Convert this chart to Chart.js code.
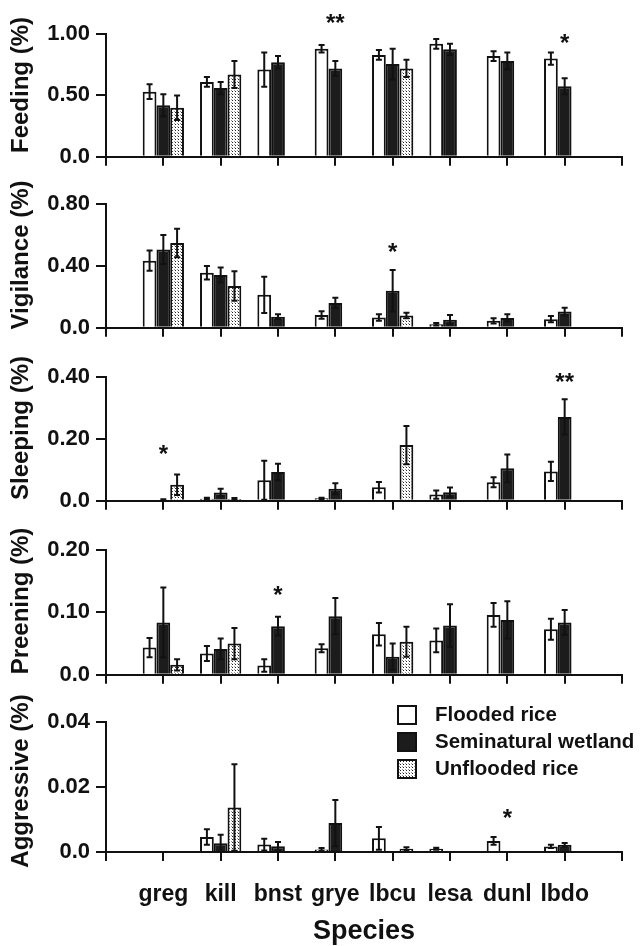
<!DOCTYPE html>
<html>
<head>
<meta charset="utf-8">
<script src="https://cdn.jsdelivr.net/npm/chart.js@4.4.1/dist/chart.umd.min.js"></script>
<style>
  body { margin:0; background:#fff; width:644px; height:946px; position:relative; overflow:hidden; }
  .panel { position:absolute; left:0; width:644px; }
</style>
</head>
<body>
<script>
const species = ['greg','kill','bnst','grye','lbcu','lesa','dunl','lbdo'];
const seriesNames = ['Flooded rice','Seminatural wetland','Unflooded rice'];

// Feeding
const feedingFlooded      = [0.53, 0.61, 0.71, 0.88, 0.83, 0.92, 0.82, 0.80];
const feedingFloodedErr   = [0.06, 0.04, 0.14, 0.03, 0.04, 0.04, 0.04, 0.05];
const feedingSemi         = [0.42, 0.56, 0.77, 0.72, 0.755, 0.875, 0.78, 0.575];
const feedingSemiErr      = [0.09, 0.05, 0.05, 0.06, 0.125, 0.045, 0.07, 0.065];
const feedingUnflooded    = [0.40, 0.67, null, null, 0.72, null, null, null];
const feedingUnfloodedErr = [0.10, 0.11, null, null, 0.07, null, null, null];
const feedingTicks = ['0.0', '0.50', '1.00'];
const feedingStars = [['grye', '**', 1.14], ['lbdo', '*', 0.977]];

// Vigilance
const vigilanceFlooded      = [0.434, 0.356, 0.213, 0.083, 0.066, 0.023, 0.045, 0.056];
const vigilanceFloodedErr   = [0.066, 0.044, 0.117, 0.024, 0.021, 0.008, 0.017, 0.020];
const vigilanceSemi         = [0.506, 0.341, 0.072, 0.160, 0.240, 0.052, 0.064, 0.105];
const vigilanceSemiErr      = [0.094, 0.049, 0.015, 0.034, 0.134, 0.031, 0.023, 0.025];
const vigilanceUnflooded    = [0.548, 0.270, null, null, 0.079, null, null, null];
const vigilanceUnfloodedErr = [0.092, 0.096, null, null, 0.018, null, null, null];
const vigilanceTicks = ['0.0', '0.40', '0.80'];
const vigilanceStars = [['lbcu', '*', 0.527]];

// Sleeping
const sleepingFlooded      = [0, 0.007, 0.066, 0.008, 0.044, 0.020, 0.060, 0.095];
const sleepingFloodedErr   = [0, 0.003, 0.063, 0.002, 0.017, 0.013, 0.016, 0.031];
const sleepingSemi         = [0.003, 0.027, 0.093, 0.039, 0, 0.028, 0.105, 0.271];
const sleepingSemiErr      = [0.002, 0.012, 0.027, 0.018, 0, 0.015, 0.045, 0.057];
const sleepingUnflooded    = [0.052, 0.006, null, null, 0.180, null, null, null];
const sleepingUnfloodedErr = [0.033, 0.003, null, null, 0.062, null, null, null];
const sleepingTicks = ['0.0', '0.20', '0.40'];
const sleepingStars = [['greg', '*', 0.171], ['lbdo', '**', 0.403]];

// Preening
const preeningFlooded      = [0.0436, 0.034, 0.015, 0.0425, 0.065, 0.055, 0.096, 0.073];
const preeningFloodedErr   = [0.0154, 0.012, 0.010, 0.0065, 0.018, 0.019, 0.019, 0.017];
const preeningSemi         = [0.084, 0.0415, 0.078, 0.094, 0.029, 0.079, 0.088, 0.084];
const preeningSemiErr      = [0.056, 0.0165, 0.015, 0.029, 0.021, 0.034, 0.030, 0.020];
const preeningUnflooded    = [0.016, 0.050, null, null, 0.053, null, null, null];
const preeningUnfloodedErr = [0.009, 0.025, null, null, 0.024, null, null, null];
const preeningTicks = ['0.0', '0.10', '0.20'];
const preeningStars = [['bnst', '*', 0.138]];

// Aggressive
const aggressiveFlooded      = [0, 0.0046, 0.0023, 0.0008, 0.0042, 0.0010, 0.0034, 0.0017];
const aggressiveFloodedErr   = [0, 0.0024, 0.0018, 0.0004, 0.0035, 0.0003, 0.0012, 0.0005];
const aggressiveSemi         = [0, 0.0027, 0.0018, 0.0089, 0, 0, 0, 0.0022];
const aggressiveSemiErr      = [0, 0.0026, 0.0013, 0.0071, 0, 0, 0, 0.0006];
const aggressiveUnflooded    = [0, 0.0137, null, null, 0.0010, null, null, null];
const aggressiveUnfloodedErr = [0, 0.0133, null, null, 0.0005, null, null, null];
const aggressiveTicks = ['0.0', '0.02', '0.04'];
const aggressiveStars = [['dunl', '*', 0.0123]];

const panels = [
  { title: 'Feeding (%)', max: 1.0, ticks: feedingTicks, stars: feedingStars,
    means: [feedingFlooded, feedingSemi, feedingUnflooded], errs: [feedingFloodedErr, feedingSemiErr, feedingUnfloodedErr] },
  { title: 'Vigilance (%)', max: 0.8, ticks: vigilanceTicks, stars: vigilanceStars,
    means: [vigilanceFlooded, vigilanceSemi, vigilanceUnflooded], errs: [vigilanceFloodedErr, vigilanceSemiErr, vigilanceUnfloodedErr] },
  { title: 'Sleeping (%)', max: 0.4, ticks: sleepingTicks, stars: sleepingStars,
    means: [sleepingFlooded, sleepingSemi, sleepingUnflooded], errs: [sleepingFloodedErr, sleepingSemiErr, sleepingUnfloodedErr] },
  { title: 'Preening (%)', max: 0.2, ticks: preeningTicks, stars: preeningStars,
    means: [preeningFlooded, preeningSemi, preeningUnflooded], errs: [preeningFloodedErr, preeningSemiErr, preeningUnfloodedErr] },
  { title: 'Aggressive (%)', max: 0.04, ticks: aggressiveTicks, stars: aggressiveStars,
    means: [aggressiveFlooded, aggressiveSemi, aggressiveUnflooded], errs: [aggressiveFloodedErr, aggressiveSemiErr, aggressiveUnfloodedErr] }
];

// page layout: y pixel of top tick and of zero line for each panel
const topPx  = [34, 204, 377, 550, 722];
const zeroPx = [162, 333, 506, 680, 852];
const INK = '#111';
const FONT = "'Liberation Sans', Arial, Helvetica, sans-serif";

function dotPattern() {
  const c = document.createElement('canvas');
  c.width = 3; c.height = 3;
  const g = c.getContext('2d');
  g.fillStyle = '#fff'; g.fillRect(0, 0, 3, 3);
  g.fillStyle = '#222'; g.fillRect(1, 1, 1, 1);
  g.fillStyle = '#999'; g.fillRect(0, 0, 1, 1);
  return g.createPattern(c, 'repeat');
}
const fills = ['#ffffff', '#1c1c1c', dotPattern()];

const pad = arr => [null, ...arr, null];

const errorBars = {
  id: 'errorBars',
  afterDatasetsDraw(chart) {
    const ctx = chart.ctx, y = chart.scales.y;
    ctx.save();
    ctx.strokeStyle = INK;
    ctx.lineWidth = 2;
    chart.data.datasets.forEach((ds, k) => {
      const meta = chart.getDatasetMeta(k);
      meta.data.forEach((bar, j) => {
        const v = ds.data[j], e = ds.errors[j];
        if (v == null || !e) return;
        const yt = y.getPixelForValue(v + e);
        const yb = y.getPixelForValue(Math.max(0, v - e));
        ctx.beginPath();
        ctx.moveTo(bar.x, yt); ctx.lineTo(bar.x, yb);
        ctx.moveTo(bar.x - 3, yt); ctx.lineTo(bar.x + 3, yt);
        ctx.moveTo(bar.x - 3, yb); ctx.lineTo(bar.x + 3, yb);
        ctx.stroke();
      });
    });
    ctx.restore();
  }
};

const annotations = {
  id: 'annotations',
  afterDraw(chart, args, opts) {
    const ctx = chart.ctx, x = chart.scales.x, y = chart.scales.y;
    ctx.save();
    ctx.fillStyle = INK;
    // significance stars
    ctx.font = 'bold 24px ' + FONT;
    ctx.textAlign = 'center';
    ctx.textBaseline = 'alphabetic';
    opts.stars.forEach(([sp, mark, val]) => {
      const px = x.getPixelForValue(species.indexOf(sp) + 1);
      const py = y.getPixelForValue(val);
      ctx.fillText(mark, px, py + 14);
    });
    // rotated y title
    ctx.save();
    ctx.translate(21, opts.titleY);
    ctx.rotate(-Math.PI / 2);
    ctx.font = 'bold 24px ' + FONT;
    ctx.textBaseline = 'middle';
    ctx.fillText(opts.title, 0, 0);
    ctx.restore();
    // legend
    if (opts.legend) {
      ctx.font = 'bold 20.5px ' + FONT;
      ctx.textAlign = 'left';
      ctx.textBaseline = 'middle';
      seriesNames.forEach((name, k) => {
        const cy = 27 + k * 27;
        ctx.fillStyle = fills[k];
        ctx.fillRect(397, cy - 10, 20, 20);
        ctx.strokeStyle = INK;
        ctx.lineWidth = 2;
        ctx.strokeRect(398, cy - 9, 18, 18);
        ctx.fillStyle = INK;
        ctx.fillText(name, 435, cy);
      });
    }
    ctx.restore();
  }
};

panels.forEach((p, i) => {
  const last = i === panels.length - 1;
  const cTop = topPx[i] - 34;
  const xH = last ? 946 - zeroPx[i] : 14;
  const H = zeroPx[i] - cTop + xH;

  const wrap = document.createElement('div');
  wrap.className = 'panel';
  wrap.style.top = cTop + 'px';
  wrap.style.height = H + 'px';
  const cv = document.createElement('canvas');
  cv.width = 644; cv.height = H;
  wrap.appendChild(cv);
  document.body.appendChild(wrap);

  new Chart(cv.getContext('2d'), {
    type: 'bar',
    data: {
      labels: ['', ...species, ''],
      datasets: p.means.map((m, k) => ({
        label: seriesNames[k],
        data: pad(m),
        errors: pad(p.errs[k]),
        backgroundColor: fills[k],
        borderColor: INK,
        borderWidth: 2,
        categoryPercentage: 0.72,
        barPercentage: 1
      }))
    },
    options: {
      responsive: false,
      animation: false,
      layout: { padding: { top: 34, right: 22, left: 0, bottom: 0 } },
      plugins: {
        legend: { display: false },
        tooltip: { enabled: false },
        annotations: { stars: p.stars, title: p.title, titleY: last ? 93 : 85, legend: last }
      },
      scales: {
        x: {
          offset: false,
          grid: { offset: false, drawOnChartArea: false, tickLength: 9, tickColor: INK, lineWidth: 2 },
          border: { color: INK, width: 2 },
          ticks: { display: last, autoSkip: false, maxRotation: 0, padding: 20, color: INK,
                   font: { family: FONT, size: 23, weight: 'bold' } },
          title: { display: last, text: 'Species', color: INK, padding: { top: 0, bottom: 1 },
                   font: { family: FONT, size: 27, weight: 'bold', lineHeight: 1 } },
          afterFit: s => { s.height = xH; }
        },
        y: {
          min: 0,
          max: p.max,
          grid: { drawOnChartArea: false, tickLength: 10, tickColor: INK, lineWidth: 2 },
          border: { color: INK, width: 2 },
          ticks: { stepSize: p.max / 2, padding: 6, color: INK,
                   font: { family: FONT, size: 22, weight: 'bold' },
                   callback: (v, idx) => p.ticks[idx] },
          afterFit: s => { s.width = 106; }
        }
      }
    },
    plugins: [errorBars, annotations]
  });
});
</script>
</body>
</html>
